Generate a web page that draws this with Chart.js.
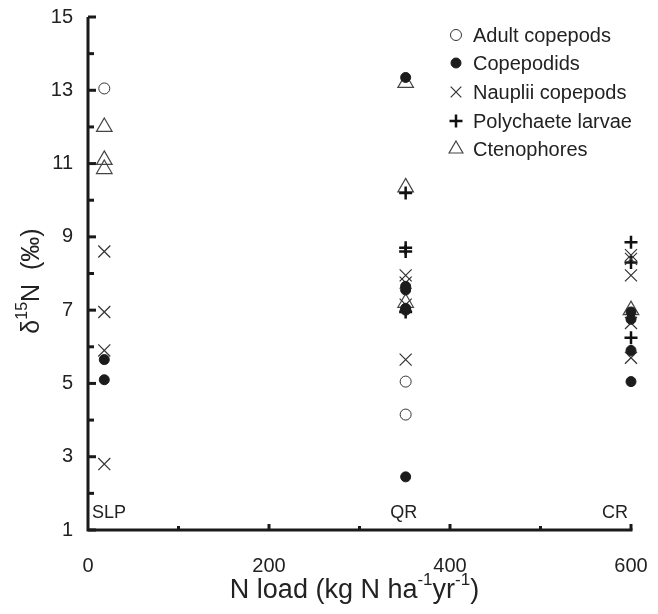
<!DOCTYPE html>
<html>
<head>
<meta charset="utf-8">
<script src="https://cdn.jsdelivr.net/npm/chart.js@4.4.1/dist/chart.umd.min.js"></script>
<style>
  html, body { margin: 0; padding: 0; background: #fff; }
  #wrap { width: 658px; height: 614px; }
</style>
</head>
<body>
<div id="wrap"><canvas id="chart" width="658" height="614"></canvas></div>
<script>
// sites and their N load (x)
const sites = ['SLP', 'QR', 'CR'];
const siteLoad = [18, 351, 600];

// d15N values per group, one list per site (SLP, QR, CR)
const adultCopepods = [[13.05], [5.05, 4.15], []];
const copepodids = [[5.65, 5.1], [13.35, 7.65, 7.55, 7.05, 7.0, 2.45], [6.95, 6.75, 5.9, 5.05]];
const naupliiCopepods = [[8.6, 6.95, 5.9, 2.8], [7.95, 7.75, 7.15, 5.65], [8.5, 8.4, 7.95, 6.65, 5.7]];
const polychaeteLarvae = [[], [10.2, 8.7, 8.6, 6.95], [8.85, 8.3, 6.25]];
const ctenophores = [[12.0, 11.1, 10.85], [13.2, 10.35, 7.2], [7.0]];

const groupNames = ['Adult copepods', 'Copepodids', 'Nauplii copepods', 'Polychaete larvae', 'Ctenophores'];

const yTicksMajor = [1, 3, 5, 7, 9, 11, 13, 15];
const xTicksLabelled = [0, 200, 400, 600];

const ink = '#222';
const font = "'Liberation Sans', Arial, Helvetica, sans-serif";

function toPoints(groups) {
    let pts = [];
    for (let i = 0; i < groups.length; i++) {
        for (let j = 0; j < groups[i].length; j++) {
            pts.push({ x: siteLoad[i], y: groups[i][j] });
        }
    }
    return pts;
}

const styles = [
    { pointStyle: 'circle', radius: 5.5, borderWidth: 1, bg: 'rgba(0,0,0,0)', border: '#333' },
    { pointStyle: 'circle', radius: 5, borderWidth: 1, bg: '#1c1c1c', border: '#1c1c1c' },
    { pointStyle: 'crossRot', radius: 8.5, borderWidth: 1.2, bg: 'rgba(0,0,0,0)', border: '#333' },
    { pointStyle: 'cross', radius: 6.5, borderWidth: 2.5, bg: 'rgba(0,0,0,0)', border: '#111' },
    { pointStyle: 'triangle', radius: 9, borderWidth: 1.2, bg: 'rgba(0,0,0,0)', border: '#444' }
];

const allGroups = [adultCopepods, copepodids, naupliiCopepods, polychaeteLarvae, ctenophores];

let datasets = [];
for (let i = 0; i < allGroups.length; i++) {
    datasets.push({
        label: groupNames[i],
        data: toPoints(allGroups[i]),
        pointStyle: styles[i].pointStyle,
        pointRadius: styles[i].radius,
        pointBorderWidth: styles[i].borderWidth,
        pointBackgroundColor: styles[i].bg,
        pointBorderColor: styles[i].border,
        showLine: false,
        clip: false
    });
}

function drawPieces(ctx, pieces, size, cx, cy) {
    // text with superscripts, centred on cx
    let total = 0;
    pieces.forEach(function (p) {
        ctx.font = (p.sup ? Math.round(size * 0.62) : size) + 'px ' + font;
        p.w = ctx.measureText(p.t).width;
        total += p.w;
    });
    let x = cx - total / 2;
    ctx.textAlign = 'left';
    ctx.textBaseline = 'middle';
    pieces.forEach(function (p) {
        ctx.font = (p.sup ? Math.round(size * 0.62) : size) + 'px ' + font;
        ctx.fillText(p.t, x, p.sup ? cy - size * 0.38 : cy);
        x += p.w;
    });
}

const framePlugin = {
    id: 'frame',
    beforeDatasetsDraw: function (chart) {
        const ctx = chart.ctx;
        const xs = chart.scales.x, ys = chart.scales.y;
        const a = chart.chartArea;
        ctx.save();
        ctx.strokeStyle = '#1a1a1a';
        ctx.lineWidth = 3;
        ctx.lineCap = 'butt';
        ctx.beginPath();
        ctx.moveTo(a.left, a.top);
        ctx.lineTo(a.left, a.bottom);
        ctx.lineTo(a.right + 1.5, a.bottom);
        ctx.stroke();

        // inward ticks on y
        for (let v = 1; v <= 15; v++) {
            let py = ys.getPixelForValue(v);
            let len = (v % 2 === 1) ? 8 : 6;
            ctx.beginPath();
            ctx.moveTo(a.left, py);
            ctx.lineTo(a.left + len, py);
            ctx.stroke();
        }
        // inward ticks on x
        for (let v = 100; v <= 600; v += 100) {
            let px = xs.getPixelForValue(v);
            let len = (v % 200 === 0) ? 6 : 4;
            ctx.beginPath();
            ctx.moveTo(px, a.bottom);
            ctx.lineTo(px, a.bottom - len);
            ctx.stroke();
        }
        ctx.restore();
    },
    afterDraw: function (chart) {
        const ctx = chart.ctx;
        const xs = chart.scales.x, ys = chart.scales.y;
        const a = chart.chartArea;
        ctx.save();
        ctx.fillStyle = ink;

        // site labels
        ctx.font = '18px ' + font;
        ctx.textBaseline = 'middle';
        let yl = ys.getPixelForValue(1.45);
        ctx.textAlign = 'left';
        ctx.fillText(sites[0], a.left + 4, yl);
        ctx.textAlign = 'center';
        ctx.fillText(sites[1], xs.getPixelForValue(siteLoad[1]) - 2, yl);
        ctx.textAlign = 'right';
        ctx.fillText(sites[2], a.right - 3, yl);

        // axis titles
        drawPieces(ctx, [
            { t: 'N load (kg N ha' }, { t: '-1', sup: true }, { t: 'yr' }, { t: '-1', sup: true }, { t: ')' }
        ], 27, (a.left + a.right) / 2 - 5, 591);

        ctx.save();
        ctx.translate(32, 281);
        ctx.rotate(-Math.PI / 2);
        drawPieces(ctx, [
            { t: 'δ' }, { t: '15', sup: true }, { t: 'N  (‰)' }
        ], 25, 0, 0);
        ctx.restore();

        // legend
        const lx = 456, tx = 473;
        const rows = [35, 63, 92, 121, 149];
        for (let i = 0; i < datasets.length; i++) {
            const ds = datasets[i];
            ctx.save();
            ctx.fillStyle = ds.pointBackgroundColor;
            ctx.strokeStyle = ds.pointBorderColor;
            ctx.lineWidth = ds.pointBorderWidth;
            Chart.helpers.drawPoint(ctx, {
                pointStyle: ds.pointStyle,
                radius: i === 2 ? 7.5 : (i === 4 ? 8 : ds.pointRadius),
                rotation: 0,
                borderWidth: ds.pointBorderWidth
            }, lx, rows[i]);
            ctx.restore();
            ctx.fillStyle = ink;
            ctx.font = '20px ' + font;
            ctx.textAlign = 'left';
            ctx.textBaseline = 'middle';
            ctx.fillText(ds.label, tx, rows[i] + 1);
        }
        ctx.restore();
    }
};

new Chart(document.getElementById('chart'), {
    type: 'scatter',
    data: { datasets: datasets },
    options: {
        responsive: false,
        animation: false,
        devicePixelRatio: 1,
        layout: { padding: { top: 17, right: 27, left: 0, bottom: 0 } },
        plugins: {
            legend: { display: false },
            tooltip: { enabled: false }
        },
        scales: {
            x: {
                type: 'linear',
                min: 0,
                max: 600,
                border: { display: false },
                grid: { display: false, drawTicks: false },
                afterBuildTicks: function (scale) {
                    scale.ticks = xTicksLabelled.map(function (v) { return { value: v }; });
                },
                ticks: { color: ink, font: { family: font, size: 20 }, padding: 24, maxRotation: 0 },
                afterFit: function (scale) {
                    scale.height = 84;
                    scale.paddingLeft = 0;
                    scale.paddingRight = 0;
                }
            },
            y: {
                min: 1,
                max: 15,
                border: { display: false },
                grid: { display: false, drawTicks: false },
                afterBuildTicks: function (scale) {
                    scale.ticks = yTicksMajor.map(function (v) { return { value: v }; });
                },
                ticks: { color: ink, font: { family: font, size: 20 }, padding: 15 },
                afterFit: function (scale) {
                    scale.width = 88;
                    scale.paddingTop = 0;
                    scale.paddingBottom = 0;
                }
            }
        }
    },
    plugins: [framePlugin]
});
</script>
</body>
</html>
